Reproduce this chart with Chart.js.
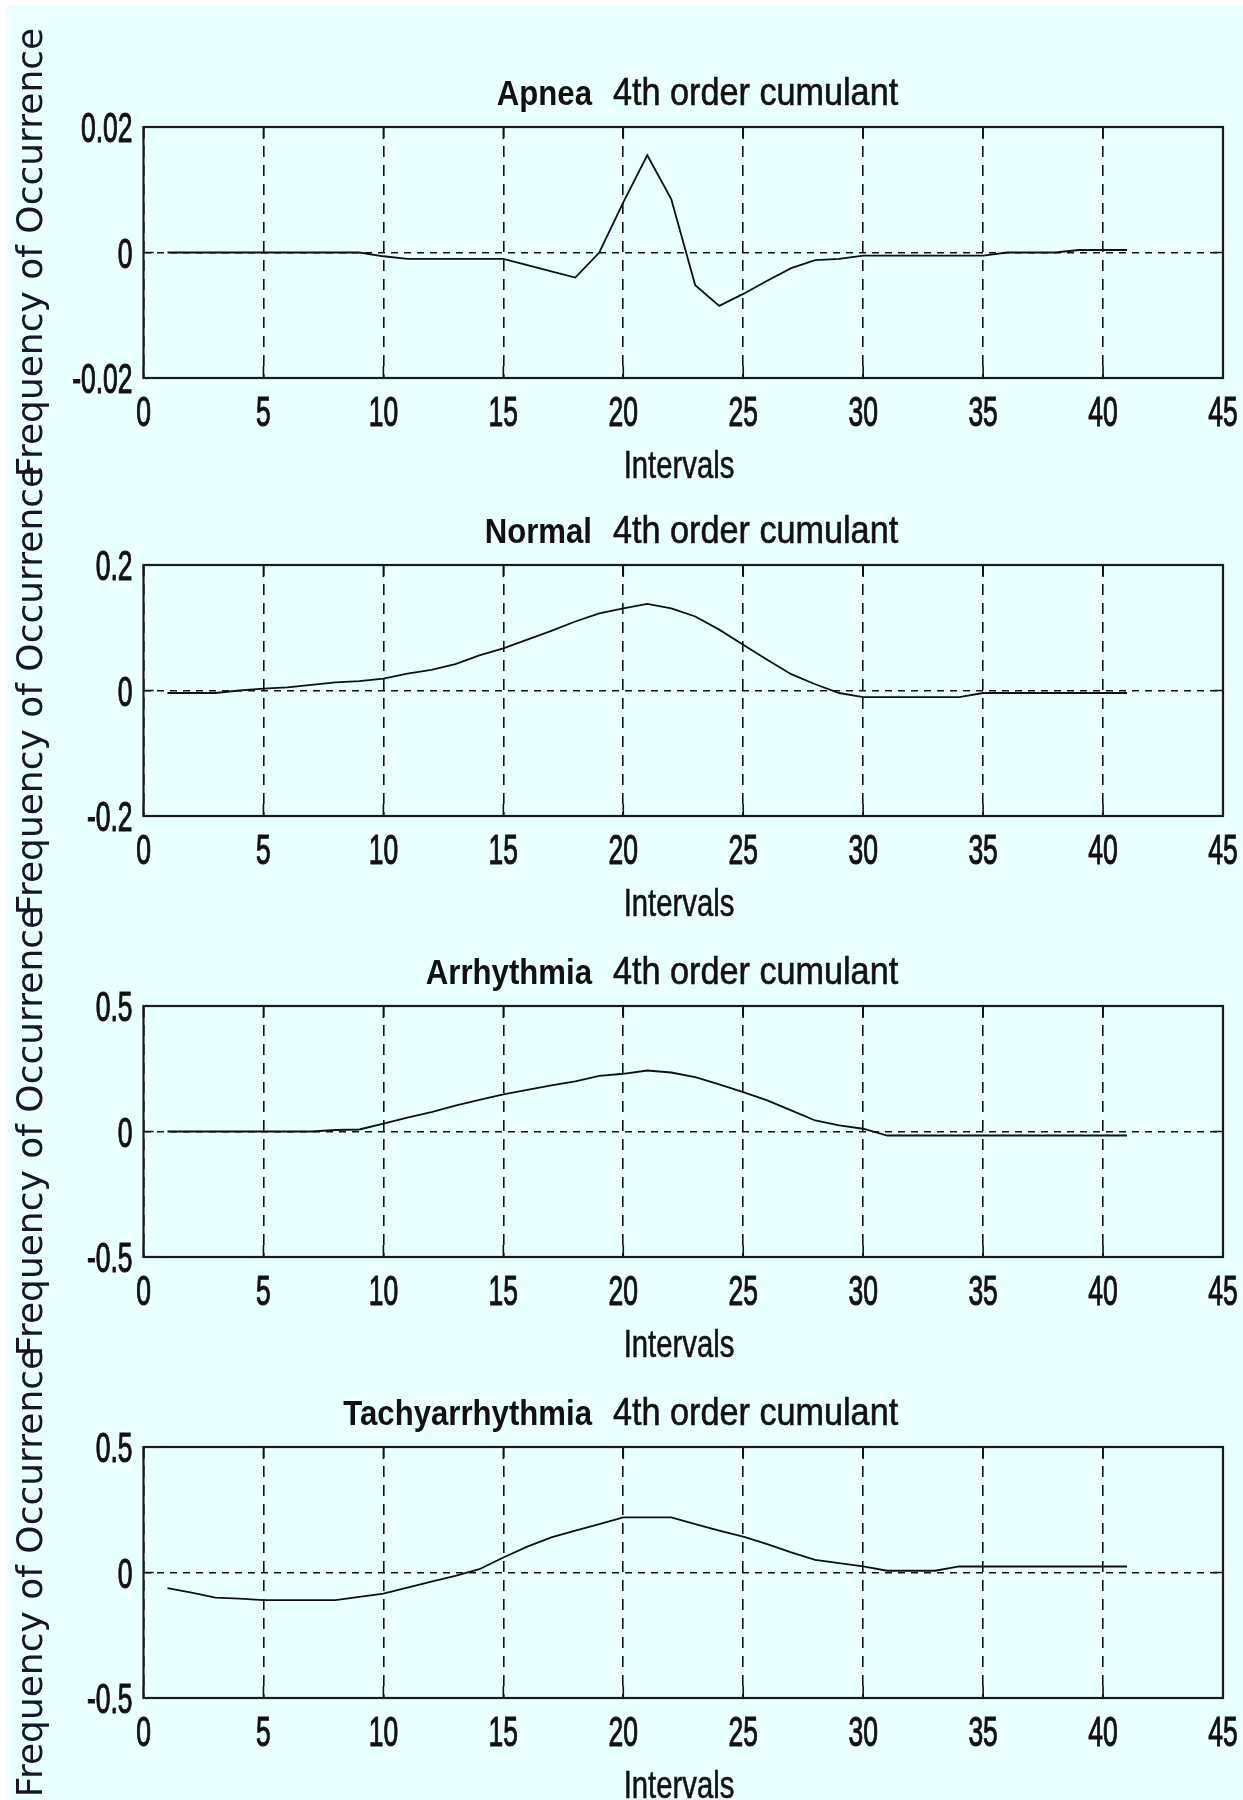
<!DOCTYPE html>
<html>
<head>
<meta charset="utf-8">
<script src="https://cdn.jsdelivr.net/npm/chart.js@4.4.1/dist/chart.umd.min.js"></script>
<style>
  body { margin: 0; background: #fff; width: 1243px; height: 1800px; position: relative; overflow: hidden; }
  #fig { position: absolute; left: 7px; top: 5px; width: 1236px; height: 1795px; background: #eaffff; }
  canvas { position: absolute; left: 0; }
</style>
</head>
<body>
<div id="fig"></div>
<canvas id="c0" width="1243" height="480" style="top:0px"></canvas>
<canvas id="c1" width="1243" height="480" style="top:438px"></canvas>
<canvas id="c2" width="1243" height="480" style="top:879px"></canvas>
<canvas id="c3" width="1243" height="480" style="top:1320px"></canvas>
<script>
// intervals on the x axis
const intervals = [1, 2, 3, 4, 5, 6, 7, 8, 9, 10, 11, 12, 13, 14, 15, 16, 17, 18, 19, 20,
  21, 22, 23, 24, 25, 26, 27, 28, 29, 30, 31, 32, 33, 34, 35, 36, 37, 38, 39, 40, 41];

// 4th order cumulant, one array per class
const apnea = [0, 0, 0, 0, 0, 0, 0, 0, 0, -0.0006,
  -0.001, -0.001, -0.001, -0.001, -0.001, -0.002, -0.003, -0.004, 0, 0.008,
  0.0155, 0.0085, -0.0052, -0.0085, -0.0066, -0.0045, -0.0025, -0.0012, -0.001, -0.0005,
  -0.0005, -0.0005, -0.0005, -0.0005, -0.0005, 0, 0, 0, 0.0004, 0.0004, 0.0004];
const normal = [-0.004, -0.004, -0.004, 0, 0.003, 0.005, 0.009, 0.013, 0.015, 0.019,
  0.027, 0.033, 0.042, 0.056, 0.067, 0.081, 0.095, 0.11, 0.123, 0.131,
  0.138, 0.131, 0.118, 0.097, 0.073, 0.049, 0.026, 0.010, -0.004, -0.0105,
  -0.0105, -0.0105, -0.0105, -0.0105, -0.004, -0.004, -0.004, -0.004, -0.004, -0.004, -0.004];
const arrhythmia = [0, 0, 0, 0, 0, 0, 0, 0.006, 0.008, 0.031,
  0.055, 0.077, 0.103, 0.126, 0.148, 0.166, 0.184, 0.2, 0.222, 0.23,
  0.243, 0.235, 0.217, 0.188, 0.157, 0.124, 0.084, 0.044, 0.024, 0.011,
  -0.016, -0.016, -0.016, -0.016, -0.016, -0.016, -0.016, -0.016, -0.016, -0.016, -0.016];
const tachyarrhythmia = [-0.062, -0.08, -0.1, -0.104, -0.11, -0.11, -0.11, -0.11, -0.097, -0.084,
  -0.06, -0.036, -0.013, 0.013, 0.06, 0.103, 0.14, 0.167, 0.193, 0.22,
  0.22, 0.22, 0.193, 0.167, 0.143, 0.113, 0.08, 0.05, 0.037, 0.024,
  0.007, 0.007, 0.007, 0.024, 0.024, 0.024, 0.024, 0.024, 0.024, 0.024, 0.024];

const classNames = ['Apnea', 'Normal', 'Arrhythmia', 'Tachyarrhythmia'];
const series = [apnea, normal, arrhythmia, tachyarrhythmia];

// tick labels
const xTicks = [0, 5, 10, 15, 20, 25, 30, 35, 40, 45];
const yTicksApnea = [-0.02, 0, 0.02];
const yTicksNormal = [-0.2, 0, 0.2];
const yTicksArrhythmia = [-0.5, 0, 0.5];
const yTicksTachy = [-0.5, 0, 0.5];
const yTickSets = [yTicksApnea, yTicksNormal, yTicksArrhythmia, yTicksTachy];

const sans = "'Liberation Sans', Arial, sans-serif";
const ink = '#111';

// text squeezed sideways, the source picture uses a very narrow face
function squeezed(ctx, text, x, y, font, sx, align, heavy) {
  ctx.save();
  ctx.translate(x, y);
  ctx.scale(sx, 1);
  ctx.font = font;
  ctx.textAlign = align;
  ctx.textBaseline = 'alphabetic';
  ctx.fillStyle = ink;
  ctx.fillText(text, 0, 0);
  if (heavy) {
    ctx.strokeStyle = ink;
    ctx.lineWidth = heavy;
    ctx.strokeText(text, 0, 0);
  }
  ctx.restore();
}

// box round the plot and the little inward ticks, matlab style
const boxPlugin = {
  id: 'box',
  afterDatasetsDraw(chart) {
    const { ctx, chartArea: a, scales: { x, y } } = chart;
    ctx.save();
    ctx.strokeStyle = ink;
    ctx.lineWidth = 1.6;
    ctx.beginPath();
    x.ticks.forEach(t => {
      const px = x.getPixelForValue(t.value);
      ctx.moveTo(px, a.bottom); ctx.lineTo(px, a.bottom - 12);
      ctx.moveTo(px, a.top); ctx.lineTo(px, a.top + 12);
    });
    y.ticks.forEach(t => {
      const py = y.getPixelForValue(t.value);
      ctx.moveTo(a.left, py); ctx.lineTo(a.left + 10, py);
      ctx.moveTo(a.right, py); ctx.lineTo(a.right - 10, py);
    });
    ctx.stroke();
    ctx.lineWidth = 2.2;
    ctx.strokeStyle = '#1a1a1a';
    ctx.strokeRect(a.left, a.top, a.right - a.left, a.bottom - a.top);
    ctx.restore();
  }
};

// tick labels, x label and the two-part title
const textPlugin = {
  id: 'texts',
  afterDraw(chart, args, opts) {
    const { ctx, chartArea: a, scales: { x, y } } = chart;
    x.ticks.forEach(t => {
      squeezed(ctx, String(t.value), x.getPixelForValue(t.value), a.bottom + 48, '42px ' + sans, 0.63, 'center', 1.1);
    });
    y.ticks.forEach(t => {
      squeezed(ctx, String(t.value), a.left - 11, y.getPixelForValue(t.value) + 15, '42px ' + sans, 0.63, 'right', 1.1);
    });
    squeezed(ctx, 'Intervals', 679, a.bottom + 100, '39px ' + sans, 0.75, 'center', 0.6);
    const base = a.top - 22;
    squeezed(ctx, opts.name, 592, base, 'bold 35px ' + sans, 0.89, 'right');
    squeezed(ctx, '4th order cumulant', 613, base, '38px ' + sans, 0.9, 'left', 0.6);
  }
};

series.forEach((vals, i) => {
  const yTicks = yTickSets[i];
  new Chart(document.getElementById('c' + i), {
    type: 'line',
    data: {
      datasets: [{
        data: intervals.map((v, k) => ({ x: v, y: vals[k] })),
        borderColor: '#0d0d22',
        borderWidth: 1.8,
        pointRadius: 0,
        tension: 0,
        fill: false
      }]
    },
    options: {
      responsive: false,
      animation: false,
      devicePixelRatio: 1,
      layout: { padding: { top: 127, right: 20, left: 0, bottom: 0 } },
      plugins: {
        legend: { display: false },
        tooltip: { enabled: false },
        texts: { name: classNames[i] }
      },
      scales: {
        x: {
          type: 'linear',
          min: xTicks[0],
          max: xTicks[xTicks.length - 1],
          afterBuildTicks: s => { s.ticks = xTicks.map(v => ({ value: v })); },
          afterFit: s => { s.height = 102; },
          border: { display: false, dash: [11, 8] },
          grid: { color: ink, lineWidth: 1.6, drawTicks: false },
          ticks: { display: false }
        },
        y: {
          min: yTicks[0],
          max: yTicks[yTicks.length - 1],
          afterBuildTicks: s => { s.ticks = yTicks.map(v => ({ value: v })); },
          afterFit: s => { s.width = 143.5; },
          border: { display: false, dash: [7, 6] },
          grid: { color: ink, lineWidth: 1.6, drawTicks: false },
          ticks: { display: false },
          title: {
            display: true, text: 'Frequency of Occurrence', color: '#16162a',
            font: { family: "'DejaVu Sans', sans-serif", size: 36, lineHeight: 1.2 },
            padding: { top: 11, bottom: 0 }
          }
        }
      }
    },
    plugins: [boxPlugin, textPlugin]
  });
});
</script>
</body>
</html>
